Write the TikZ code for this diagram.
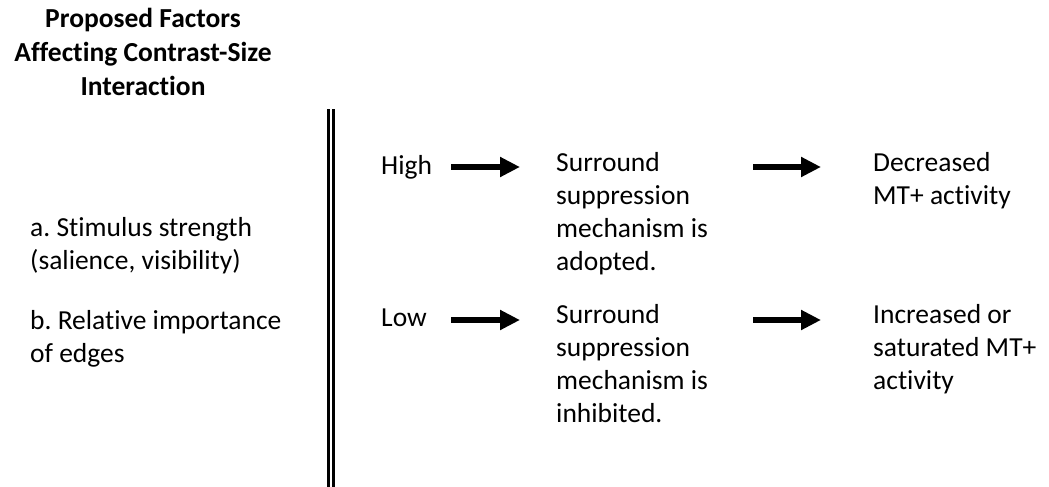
\documentclass[tikz,border=0pt]{standalone}
\usepackage{fontspec}
\setmainfont{Carlito}[Ligatures=NoCommon]
\usetikzlibrary{arrows.meta,positioning}
\frenchspacing

\begin{document}
\begin{tikzpicture}[x=1pt,y=1pt,
  every node/.style={font=\fontsize{27.5}{33}\selectfont,inner sep=0pt},
  txt/.style={align=left,anchor=base west},
  arr/.style={line width=6pt,-{Triangle[length=20pt,width=19pt]}}]
\useasboundingbox (0,0) rectangle (1049,-487);
\node[align=center,anchor=base,font=\fontsize{27.5}{33.5}\selectfont\bfseries] (title) at (143,-95) {Proposed Factors\\Affecting Contrast-Size\\Interaction};
\node[txt] (fa) at (30,-269) {a. Stimulus strength\\(salience, visibility)};
\node[txt] (fb) at (30,-362) {b. Relative importance\\of edges};
\draw[line width=2.75pt,double distance=2.5pt] (331,-109) -- (331,-487);
\node[txt] (high) at (381,-174) {High};
\node[txt] (low) at (381,-326) {Low};
\node[txt] (supH) at (556,-270) {Surround\\suppression\\mechanism is\\adopted.};
\node[txt] (supL) at (556,-422) {Surround\\suppression\\mechanism is\\inhibited.};
\node[txt] (dec) at (873,-204) {Decreased\\MT+ activity};
\node[txt] (inc) at (873,-389) {Increased or\\saturated MT+\\activity};
% arrows
\coordinate (h1) at (451,-167);\coordinate (h2) at (520,-167);
\coordinate (h3) at (753,-167);\coordinate (h4) at (821,-167);
\coordinate (l1) at (451,-320);\coordinate (l2) at (520,-320);
\coordinate (l3) at (753,-320);\coordinate (l4) at (821,-320);
\draw[arr] (h1) -- (h2);\draw[arr] (h3) -- (h4);
\draw[arr] (l1) -- (l2);\draw[arr] (l3) -- (l4);
\end{tikzpicture}
\end{document}
